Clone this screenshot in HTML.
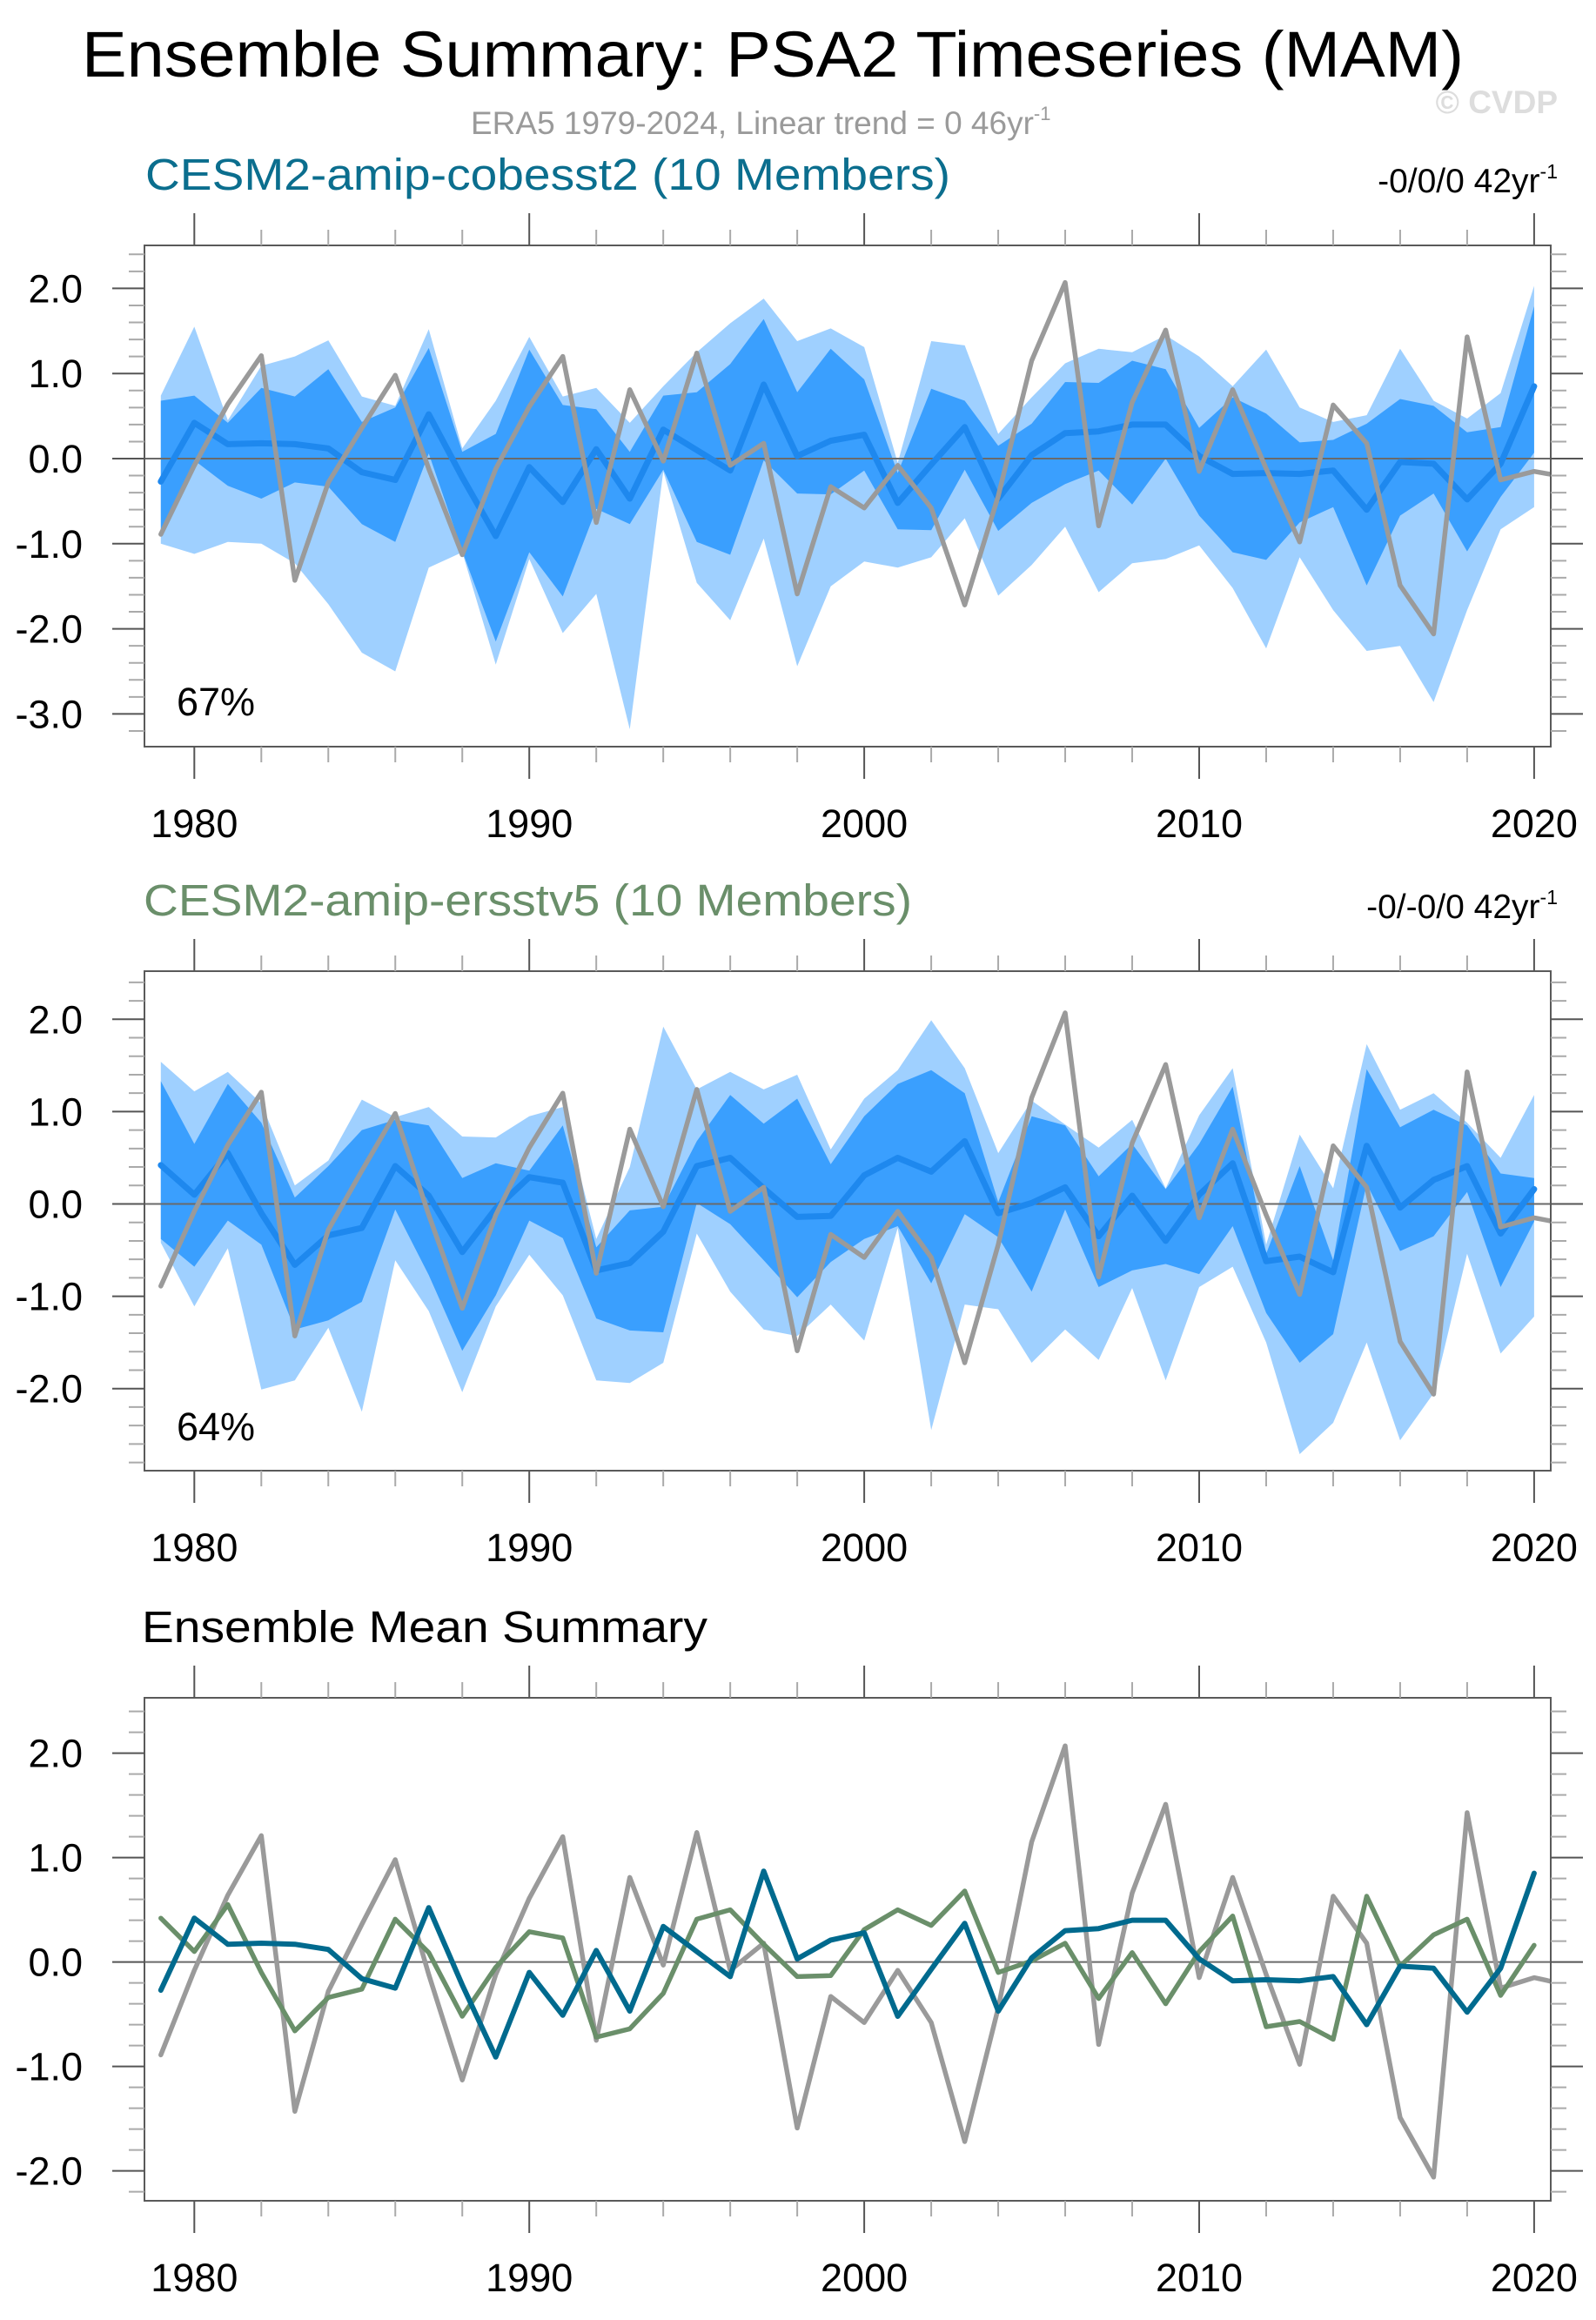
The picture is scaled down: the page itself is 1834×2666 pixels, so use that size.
<!DOCTYPE html>
<html><head><meta charset="utf-8"><title>Ensemble Summary: PSA2 Timeseries (MAM)</title>
<style>
html,body{margin:0;padding:0;background:#fff;}
svg{display:block;font-family:"Liberation Sans",Arial,sans-serif;}
</style></head>
<body>
<svg id="chart" width="1834" height="2666" viewBox="0 0 1834 2666" xmlns="http://www.w3.org/2000/svg">
<text x="888" y="88" font-size="74" text-anchor="middle" textLength="1588" lengthAdjust="spacingAndGlyphs" fill="#000">Ensemble Summary: PSA2 Timeseries (MAM)</text>
<text x="541" y="154" font-size="37" fill="#9a9a9a">ERA5 1979-2024, Linear trend = 0 46yr<tspan font-size="22" dy="-16">-1</tspan></text>
<text x="1790" y="130" font-size="37" font-weight="bold" text-anchor="end" fill="#dddddd">© CVDP</text>

<text x="167" y="218" font-size="51" fill="#0b6e8e" textLength="925" lengthAdjust="spacingAndGlyphs">CESM2-amip-cobesst2 (10 Members)</text>
<text x="1790" y="221" font-size="39" text-anchor="end" fill="#000">-0/0/0 42yr<tspan font-size="23" dy="-16">-1</tspan></text>
<text x="165" y="1052" font-size="51" fill="#6a8f6a" textLength="883" lengthAdjust="spacingAndGlyphs">CESM2-amip-ersstv5 (10 Members)</text>
<text x="1790" y="1055" font-size="39" text-anchor="end" fill="#000">-0/-0/0 42yr<tspan font-size="23" dy="-16">-1</tspan></text>
<text x="163" y="1887" font-size="51" fill="#000" textLength="650" lengthAdjust="spacingAndGlyphs">Ensemble Mean Summary</text>
<g id="plots"></g>
</svg>
<script>
const years = [];
for (let y = 1979; y <= 2020; y++) years.push(y);
const obsYears = years.concat([2021]);
const era5 = [-0.89,-0.08,0.64,1.21,-1.43,-0.28,0.36,0.98,-0.12,-1.13,-0.12,0.61,1.20,-0.75,0.81,-0.03,1.24,-0.08,0.18,-1.59,-0.33,-0.58,-0.08,-0.58,-1.72,-0.44,1.15,2.07,-0.79,0.66,1.51,-0.15,0.81,-0.12,-0.98,0.63,0.18,-1.49,-2.06,1.43,-0.25,-0.15,-0.22];
const cobMean = [-0.27,0.42,0.17,0.18,0.17,0.12,-0.16,-0.25,0.52,-0.22,-0.91,-0.10,-0.51,0.11,-0.47,0.34,0.10,-0.14,0.87,0.03,0.21,0.28,-0.52,-0.07,0.37,-0.47,0.04,0.30,0.32,0.40,0.40,0.03,-0.18,-0.17,-0.18,-0.14,-0.60,-0.04,-0.06,-0.48,-0.06,0.85];
const ersMean = [0.42,0.10,0.55,-0.10,-0.66,-0.34,-0.26,0.41,0.09,-0.52,-0.05,0.29,0.23,-0.72,-0.64,-0.30,0.41,0.50,0.17,-0.14,-0.13,0.31,0.50,0.35,0.68,-0.10,0.01,0.18,-0.35,0.09,-0.40,0.10,0.44,-0.62,-0.57,-0.74,0.63,-0.04,0.26,0.41,-0.32,0.16];
const cobOuterHi = [0.74,1.55,0.45,1.09,1.20,1.39,0.73,0.62,1.52,0.12,0.68,1.43,0.73,0.83,0.42,0.85,1.25,1.59,1.88,1.38,1.53,1.31,-0.05,1.38,1.33,0.29,0.72,1.12,1.29,1.25,1.45,1.20,0.85,1.28,0.60,0.43,0.51,1.29,0.68,0.47,0.77,2.03];
const cobInnerHi = [0.68,0.74,0.42,0.83,0.73,1.05,0.43,0.60,1.30,0.08,0.29,1.28,0.63,0.58,0.08,0.74,0.78,1.11,1.64,0.78,1.29,0.93,-0.17,0.82,0.68,0.15,0.41,0.90,0.89,1.15,1.05,0.36,0.72,0.53,0.19,0.22,0.41,0.70,0.62,0.31,0.37,1.79];
const cobInnerLo = [-0.86,-0.02,-0.32,-0.47,-0.28,-0.33,-0.77,-0.98,0.06,-1.09,-2.15,-1.10,-1.62,-0.59,-0.77,-0.13,-0.98,-1.13,-0.02,-0.41,-0.42,-0.14,-0.83,-0.84,-0.13,-0.85,-0.52,-0.30,-0.14,-0.54,0.00,-0.67,-1.10,-1.19,-0.75,-0.57,-1.49,-0.67,-0.41,-1.09,-0.45,0.07];
const cobOuterLo = [-1.00,-1.12,-0.98,-1.00,-1.23,-1.71,-2.28,-2.50,-1.28,-1.10,-2.42,-1.18,-2.05,-1.59,-3.18,-0.15,-1.46,-1.90,-0.94,-2.44,-1.50,-1.21,-1.28,-1.16,-0.70,-1.61,-1.25,-0.80,-1.57,-1.23,-1.18,-1.02,-1.52,-2.23,-1.16,-1.78,-2.26,-2.20,-2.86,-1.78,-0.83,-0.57];
const ersOuterHi = [1.54,1.22,1.43,1.09,0.20,0.47,1.13,0.94,1.05,0.73,0.72,0.95,1.05,-0.38,0.40,1.92,1.24,1.43,1.24,1.40,0.59,1.14,1.45,1.99,1.47,0.55,1.12,0.86,0.61,0.91,0.17,0.96,1.47,-0.44,0.75,0.17,1.73,1.02,1.20,0.88,0.50,1.18];
const ersInnerHi = [1.33,0.65,1.30,0.88,0.07,0.41,0.80,0.91,0.85,0.28,0.44,0.36,0.85,-0.47,-0.07,-0.03,0.68,1.18,0.87,1.14,0.43,0.95,1.30,1.45,1.20,0.02,0.95,0.85,0.30,0.65,0.16,0.65,1.27,-0.54,0.41,-0.61,1.46,0.83,1.02,0.85,0.33,0.28];
const ersInnerLo = [-0.38,-0.68,-0.18,-0.44,-1.36,-1.26,-1.06,-0.06,-0.77,-1.59,-0.99,-0.18,-0.37,-1.24,-1.37,-1.39,0.01,-0.22,-0.61,-1.01,-0.63,-0.38,-0.24,-0.86,-0.11,-0.36,-0.95,-0.06,-0.90,-0.72,-0.65,-0.76,-0.24,-1.18,-1.72,-1.41,0.22,-0.51,-0.35,0.13,-0.90,-0.19];
const ersOuterLo = [-0.42,-1.11,-0.48,-2.01,-1.91,-1.34,-2.25,-0.61,-1.16,-2.04,-1.11,-0.55,-0.99,-1.91,-1.94,-1.72,-0.32,-0.95,-1.36,-1.43,-1.09,-1.48,-0.26,-2.45,-1.09,-1.14,-1.72,-1.36,-1.69,-0.91,-1.91,-0.90,-0.68,-1.50,-2.71,-2.37,-1.50,-2.56,-2.05,-0.54,-1.62,-1.22];
const yTickLabels1 = ["2.0","1.0","0.0","-1.0","-2.0","-3.0"];
const yTickLabels2 = ["2.0","1.0","0.0","-1.0","-2.0"];
const xTickYears = [1980,1990,2000,2010,2020];

const NS = "http://www.w3.org/2000/svg";
const root = document.getElementById("plots");
const X0 = 166, X1 = 1782;
function xs(yr){ return 223.3 + (yr - 1980) * 38.49; }
function mk(tag, attrs, parent){
  const e = document.createElementNS(NS, tag);
  for (const k in attrs) e.setAttribute(k, attrs[k]);
  (parent || root).appendChild(e);
  return e;
}
function drawPanel(p){
  const g = mk("g", {});
  
  
  const ys = v => p.zero - v * p.unit;
  const clipId = p.name + "-clip";
  const cp = mk("clipPath", {id: clipId}, g);
  mk("rect", {x: X0, y: p.top, width: X1 - X0, height: p.bottom - p.top}, cp);
  const plot = mk("g", {"clip-path": "url(#" + clipId + ")"}, g);
  
  
  function band(hi, lo, color, nm){
    let d = "";
    hi.forEach((v,i)=>{ d += (i ? "L" : "M") + xs(years[i]).toFixed(1) + " " + ys(v).toFixed(1) + " "; });
    for (let i = lo.length - 1; i >= 0; i--) d += "L" + xs(years[i]).toFixed(1) + " " + ys(lo[i]).toFixed(1) + " ";
    const el = mk("path", {d: d + "Z", fill: color, stroke: "none"}, plot);
    
    
  }
  function line(yrs, vals, color, w, nm){
    const pts = vals.map((v,i)=> xs(yrs[i]).toFixed(1) + "," + ys(v).toFixed(1)).join(" ");
    const el = mk("polyline", {points: pts, fill: "none", stroke: color, "stroke-width": w, "stroke-linejoin": "round", "stroke-linecap": "round"}, plot);
    
    
  }
  if (p.bands){
    band(p.bands[0], p.bands[3], "#9fd0ff", p.name + "-outer-range");
    band(p.bands[1], p.bands[2], "#3a9ffe", p.name + "-inner-range");
  }
  const zl = mk("line", {x1: X0, x2: X1, y1: ys(0), y2: ys(0), stroke: "#6a6a6a", "stroke-width": 2}, plot);
  
  
  p.lines.forEach(L => line(L.years, L.vals, L.color, L.w, L.name));
  const fr = mk("rect", {x: X0, y: p.top, width: X1 - X0, height: p.bottom - p.top, fill: "none", stroke: "#5a5a5a", "stroke-width": 2}, g);
  
  
  for (let yr = 1980; yr <= 2020; yr += 2){
    const major = (yr % 10 === 0);
    const len = major ? 37 : 18, col = major ? "#555" : "#aaa";
    const x = xs(yr);
    mk("line", {x1: x, x2: x, y1: p.top, y2: p.top - len, stroke: col, "stroke-width": 2}, g);
    mk("line", {x1: x, x2: x, y1: p.bottom, y2: p.bottom + len, stroke: col, "stroke-width": 2}, g);
  }
  xTickYears.forEach(yr=>{
    const t = mk("text", {x: xs(yr), y: p.bottom + 104, "font-size": 45, "text-anchor": "middle", fill: "#000"}, g);
    t.textContent = String(yr);
    
    
  });
  const vTop = (p.zero - p.top) / p.unit, vBot = (p.zero - p.bottom) / p.unit;
  for (let k = Math.ceil(vBot * 5 - 1e-6); k <= Math.floor(vTop * 5 + 1e-6); k++){
    const v = k / 5, major = (k % 5 === 0);
    const len = major ? 37 : 18, col = major ? "#555" : "#aaa";
    const y = ys(v);
    mk("line", {x1: X0, x2: X0 - len, y1: y, y2: y, stroke: col, "stroke-width": 2}, g);
    mk("line", {x1: X1, x2: X1 + len, y1: y, y2: y, stroke: col, "stroke-width": 2}, g);
  }
  p.yLabels.forEach(s=>{
    const v = parseFloat(s);
    const t = mk("text", {x: 95, y: ys(v) + 16, "font-size": 45, "text-anchor": "end", fill: "#000"}, g);
    t.textContent = s;
    
    
  });
  if (p.pct){
    const t = mk("text", {x: 203, y: p.pctY, "font-size": 45, fill: "#000"}, g);
    t.textContent = p.pct;
    
    
  }
}
drawPanel({name: "cobesst2-panel", top: 282, bottom: 858, zero: 527, unit: 97.8,
  bands: [cobOuterHi, cobInnerHi, cobInnerLo, cobOuterLo],
  lines: [{years: years, vals: cobMean, color: "#1e88ee", w: 7, name: "cobesst2-ensemble-mean-line"},
          {years: obsYears, vals: era5, color: "#9a9a9a", w: 5.5, name: "era5-line"}],
  yLabels: yTickLabels1, pct: "67%", pctY: 822});
drawPanel({name: "ersstv5-panel", top: 1116, bottom: 1690, zero: 1383.5, unit: 106.1,
  bands: [ersOuterHi, ersInnerHi, ersInnerLo, ersOuterLo],
  lines: [{years: years, vals: ersMean, color: "#1e88ee", w: 7, name: "ersstv5-ensemble-mean-line"},
          {years: obsYears, vals: era5, color: "#9a9a9a", w: 5.5, name: "era5-line"}],
  yLabels: yTickLabels2, pct: "64%", pctY: 1655});
drawPanel({name: "ensemble-mean-panel", top: 1951, bottom: 2529, zero: 2254.6, unit: 120,
  bands: null,
  lines: [{years: obsYears, vals: era5, color: "#9a9a9a", w: 5.5, name: "era5-line"},
          {years: years, vals: ersMean, color: "#6a8f6a", w: 5.5, name: "ersstv5-mean-line"},
          {years: years, vals: cobMean, color: "#006a8e", w: 6, name: "cobesst2-mean-line"}],
  yLabels: yTickLabels2, pct: null});
</script>
</body></html>
